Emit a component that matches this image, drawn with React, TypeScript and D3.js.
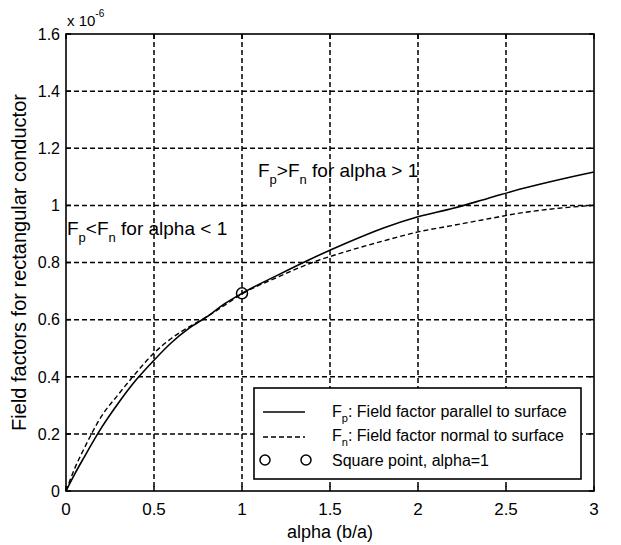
import React from 'react';
import * as d3 from 'd3';

// alpha = b/a
const alphaValues = [0, 0.05, 0.1, 0.2, 0.3, 0.4, 0.5, 0.6, 0.7, 0.8, 0.9, 1.0, 1.2, 1.4, 1.6, 1.8, 2.0, 2.2, 2.4, 2.6, 2.8, 3.0];
// field factors, x 1e-6
const fpValues = [0, 0.06, 0.115, 0.22, 0.31, 0.39, 0.458, 0.52, 0.57, 0.61, 0.655, 0.692, 0.755, 0.815, 0.87, 0.92, 0.96, 0.99, 1.025, 1.06, 1.09, 1.117];
const fnValues = [0, 0.08, 0.145, 0.26, 0.34, 0.415, 0.483, 0.535, 0.575, 0.61, 0.65, 0.69, 0.748, 0.8, 0.84, 0.875, 0.907, 0.93, 0.953, 0.975, 0.99, 1.0];
const squarePoint = { alpha: 1, value: 0.692 };

const xTicks = [0, 0.5, 1, 1.5, 2, 2.5, 3];
const yTicks = [0, 0.2, 0.4, 0.6, 0.8, 1, 1.2, 1.4, 1.6];

const FONT = '"Liberation Sans", Arial, Helvetica, sans-serif';

const App = () => {
  const width = 621;
  const height = 545;
  const margin = { top: 34, right: 27, bottom: 54, left: 66 };
  const innerW = width - margin.left - margin.right;
  const innerH = height - margin.top - margin.bottom;

  const x = d3.scaleLinear().domain([0, 3]).range([0, innerW]);
  const y = d3.scaleLinear().domain([0, 1.6]).range([innerH, 0]);

  const line = d3.line<number>()
    .x((_, i) => x(alphaValues[i]))
    .y(d => y(d))
    .curve(d3.curveMonotoneX);

  const tickLen = 5;
  const gridDash = '5,3';

  // legend box in plot coords
  const lg = { x: 188, y: 354, w: 327, h: 91 };

  return (
    <svg width={width} height={height} style={{ position: 'absolute', left: 0, top: 0, background: '#fff' }} fontFamily={FONT}>
      <rect width={width} height={height} fill="#fff" />
      <g transform={`translate(${margin.left},${margin.top})`}>
        {/* grid */}
        {xTicks.slice(1, -1).map(t => (
          <line key={'gx' + t} x1={x(t)} x2={x(t)} y1={0} y2={innerH} stroke="#000" strokeWidth={1.5} strokeDasharray={gridDash} />
        ))}
        {yTicks.slice(1, -1).map(t => (
          <line key={'gy' + t} x1={0} x2={innerW} y1={y(t)} y2={y(t)} stroke="#000" strokeWidth={1.5} strokeDasharray={gridDash} />
        ))}

        {/* curves */}
        <path d={line(fpValues) || ''} fill="none" stroke="#000" strokeWidth={1.6} />
        <path d={line(fnValues) || ''} fill="none" stroke="#000" strokeWidth={1.4} strokeDasharray="5,3" />
        <circle cx={x(squarePoint.alpha)} cy={y(squarePoint.value)} r={5.5} fill="none" stroke="#000" strokeWidth={1.5} />

        {/* axes box and ticks */}
        <rect x={0} y={0} width={innerW} height={innerH} fill="none" stroke="#000" strokeWidth={1.6} />
        {xTicks.map(t => (
          <g key={'tx' + t}>
            <line x1={x(t)} x2={x(t)} y1={innerH} y2={innerH - tickLen} stroke="#000" strokeWidth={1.5} />
            <line x1={x(t)} x2={x(t)} y1={0} y2={tickLen} stroke="#000" strokeWidth={1.5} />
            <text x={x(t)} y={innerH + 24} textAnchor="middle" fontSize={17}>{t}</text>
          </g>
        ))}
        {yTicks.map(t => (
          <g key={'ty' + t}>
            <line x1={0} x2={tickLen} y1={y(t)} y2={y(t)} stroke="#000" strokeWidth={1.5} />
            <line x1={innerW} x2={innerW - tickLen} y1={y(t)} y2={y(t)} stroke="#000" strokeWidth={1.5} />
            <text x={-6} y={y(t)} dy="0.36em" textAnchor="end" fontSize={16}>{t}</text>
          </g>
        ))}

        {/* exponent */}
        <text x={1} y={-8} fontSize={15}>
          x 10<tspan dy={-9} fontSize={10}>-6</tspan>
        </text>

        {/* annotations */}
        <text x={192} y={143} fontSize={19}>
          F<tspan dy={7} fontSize={13}>p</tspan><tspan dy={-7}>&gt;F</tspan><tspan dy={7} fontSize={13}>n</tspan><tspan dy={-7}> for alpha &gt; 1</tspan>
        </text>
        <text x={1} y={201} fontSize={19}>
          F<tspan dy={7} fontSize={13}>p</tspan><tspan dy={-7}>&lt;F</tspan><tspan dy={7} fontSize={13}>n</tspan><tspan dy={-7}> for alpha &lt; 1</tspan>
        </text>

        {/* legend */}
        <rect x={lg.x} y={lg.y} width={lg.w} height={lg.h} fill="#fff" stroke="#000" strokeWidth={1.6} />
        <line x1={lg.x + 9} x2={lg.x + 51} y1={lg.y + 24} y2={lg.y + 24} stroke="#000" strokeWidth={1.5} />
        <text x={lg.x + 78} y={lg.y + 29} fontSize={16}>
          F<tspan dy={5} fontSize={11}>p</tspan><tspan dy={-5}>: Field factor parallel to surface</tspan>
        </text>
        <line x1={lg.x + 9} x2={lg.x + 51} y1={lg.y + 49} y2={lg.y + 49} stroke="#000" strokeWidth={1.4} strokeDasharray="5,3" />
        <text x={lg.x + 78} y={lg.y + 53} fontSize={16}>
          F<tspan dy={5} fontSize={11}>n</tspan><tspan dy={-5}>: Field factor normal to surface</tspan>
        </text>
        <circle cx={lg.x + 11} cy={lg.y + 72} r={5} fill="none" stroke="#000" strokeWidth={1.5} />
        <circle cx={lg.x + 52} cy={lg.y + 72} r={5} fill="none" stroke="#000" strokeWidth={1.5} />
        <text x={lg.x + 78} y={lg.y + 78} fontSize={16}>Square point, alpha=1</text>

        {/* axis labels */}
        <text x={innerW / 2} y={innerH + 47} textAnchor="middle" fontSize={18}>alpha (b/a)</text>
        <text transform={`translate(${-40},${innerH / 2}) rotate(-90)`} textAnchor="middle" fontSize={20}>
          Field factors for rectangular conductor
        </text>
      </g>
    </svg>
  );
};

export default App;
